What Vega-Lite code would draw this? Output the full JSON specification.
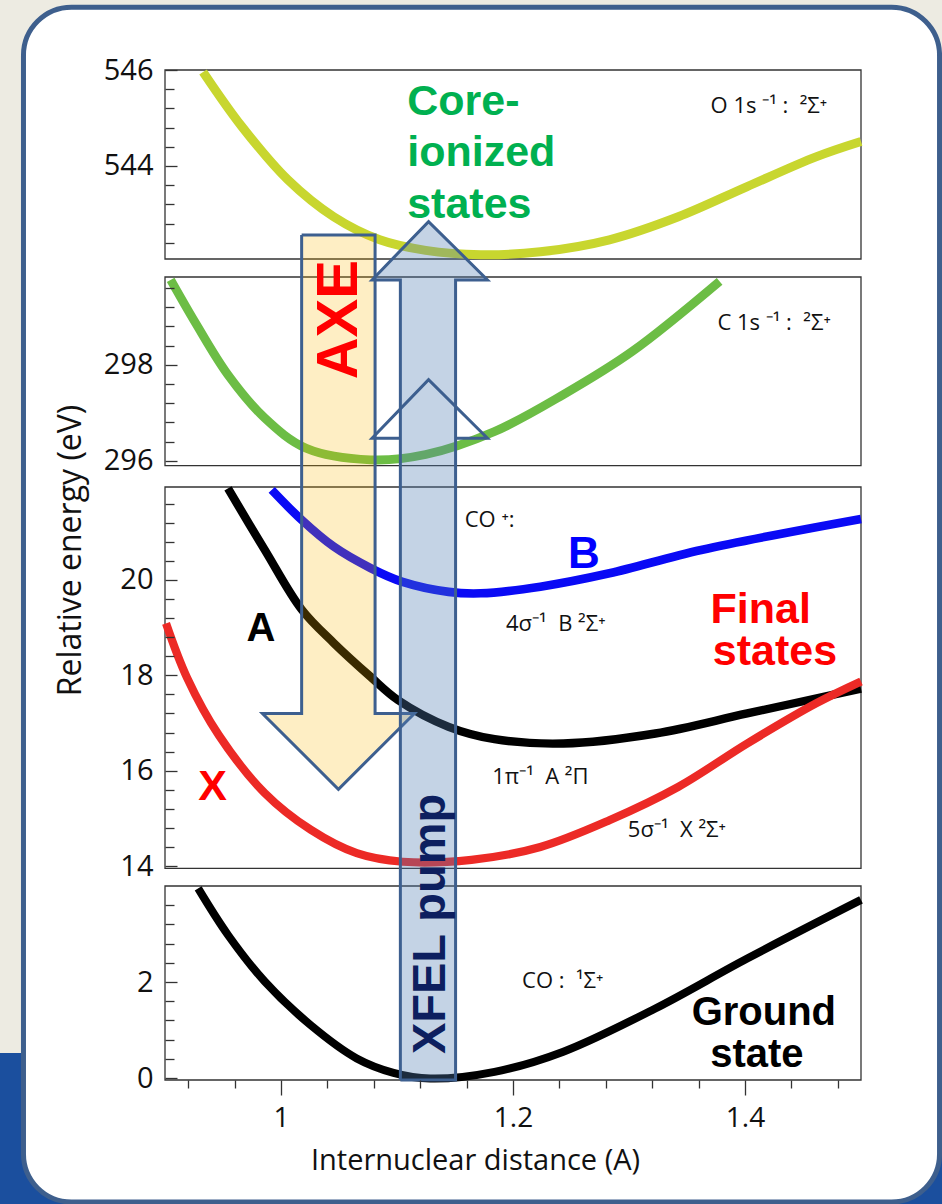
{
"$schema":"https://vega.github.io/schema/vega-lite/v6.json",
"width":696,"height":1010,
"autosize":{"type":"none"},
"padding":{"left":165,"top":70,"right":81,"bottom":124},
"background":"#edebe2",
"config":{"view":{"stroke":null}},
"datasets":{
"bg":[{"x1":0.74,"x2":1.59,"y1":-2.9,"y2":0.522}],
"panel":[{"x1":0.778,"x2":1.5677,"y1":-2.58,"y2":547.31}],
"frames":[{"x1":0.9,"x2":1.5,"y1":542.06,"y2":546},{"x1":0.9,"x2":1.5,"y1":295.9,"y2":299.83},{"x1":0.9,"x2":1.5,"y1":13.95,"y2":21.95},{"x1":0.9,"x2":1.5,"y1":-0.04,"y2":4.0}],
"curves":[
{"s":"O1s","x":0.9328,"y":545.96},{"s":"O1s","x":0.9663,"y":544.82},{"s":"O1s","x":1.0059,"y":543.71},{"s":"O1s","x":1.0454,"y":542.94},{"s":"O1s","x":1.0851,"y":542.46},{"s":"O1s","x":1.1247,"y":542.24},{"s":"O1s","x":1.1722,"y":542.15},{"s":"O1s","x":1.2236,"y":542.21},{"s":"O1s","x":1.2831,"y":542.46},{"s":"O1s","x":1.3425,"y":542.94},{"s":"O1s","x":1.4019,"y":543.57},{"s":"O1s","x":1.4612,"y":544.19},{"s":"O1s","x":1.5,"y":544.51},
{"s":"C1s","x":0.9049,"y":299.77},{"s":"C1s","x":0.9266,"y":298.86},{"s":"C1s","x":0.9543,"y":297.79},{"s":"C1s","x":0.986,"y":296.89},{"s":"C1s","x":1.0217,"y":296.26},{"s":"C1s","x":1.0772,"y":296.02},{"s":"C1s","x":1.1247,"y":296.13},{"s":"C1s","x":1.1841,"y":296.61},{"s":"C1s","x":1.2434,"y":297.38},{"s":"C1s","x":1.3028,"y":298.28},{"s":"C1s","x":1.3781,"y":299.74},
{"s":"B","x":0.992,"y":21.89},{"s":"B","x":1.0178,"y":21.26},{"s":"B","x":1.0454,"y":20.7},{"s":"B","x":1.0772,"y":20.25},{"s":"B","x":1.1048,"y":19.96},{"s":"B","x":1.1445,"y":19.75},{"s":"B","x":1.1722,"y":19.72},{"s":"B","x":1.2236,"y":19.86},{"s":"B","x":1.2831,"y":20.14},{"s":"B","x":1.3622,"y":20.63},{"s":"B","x":1.5,"y":21.28},
{"s":"A","x":0.9543,"y":21.92},{"s":"A","x":0.986,"y":20.63},{"s":"A","x":1.0178,"y":19.38},{"s":"A","x":1.0454,"y":18.68},{"s":"A","x":1.0772,"y":17.97},{"s":"A","x":1.1009,"y":17.48},{"s":"A","x":1.1445,"y":16.92},{"s":"A","x":1.1841,"y":16.66},{"s":"A","x":1.2434,"y":16.57},{"s":"A","x":1.3227,"y":16.78},{"s":"A","x":1.4019,"y":17.2},{"s":"A","x":1.5,"y":17.72},
{"s":"X","x":0.9009,"y":19.09},{"s":"X","x":0.919,"y":17.95},{"s":"X","x":0.9465,"y":16.74},{"s":"X","x":0.986,"y":15.53},{"s":"X","x":1.0257,"y":14.76},{"s":"X","x":1.0653,"y":14.27},{"s":"X","x":1.1048,"y":14.09},{"s":"X","x":1.1642,"y":14.13},{"s":"X","x":1.2236,"y":14.4},{"s":"X","x":1.2831,"y":14.96},{"s":"X","x":1.3425,"y":15.66},{"s":"X","x":1.4019,"y":16.57},{"s":"X","x":1.4612,"y":17.41},{"s":"X","x":1.5,"y":17.87},
{"s":"G","x":0.9286,"y":3.95},{"s":"G","x":0.9543,"y":2.98},{"s":"G","x":0.986,"y":2.01},{"s":"G","x":1.0257,"y":1.1},{"s":"G","x":1.0653,"y":0.41},{"s":"G","x":1.097,"y":0.11},{"s":"G","x":1.1286,"y":-0.01},{"s":"G","x":1.1841,"y":0.13},{"s":"G","x":1.2434,"y":0.55},{"s":"G","x":1.3227,"y":1.45},{"s":"G","x":1.4019,"y":2.49},{"s":"G","x":1.5,"y":3.71}
],
"axe":[{"i":0,"x":1.0178,"y":542.56},{"i":1,"x":1.0178,"y":17.2},{"i":2,"x":0.984,"y":17.2},{"i":3,"x":1.0495,"y":15.61},{"i":4,"x":1.115,"y":17.2},{"i":5,"x":1.0811,"y":17.2},{"i":6,"x":1.0811,"y":542.56},{"i":7,"x":1.0178,"y":542.56}],
"xfel":[{"i":0,"x":1.1029,"y":-0.04},{"i":1,"x":1.1029,"y":299.77},{"i":2,"x":1.0785,"y":299.77},{"i":3,"x":1.1272,"y":542.84},{"i":4,"x":1.178,"y":299.77},{"i":5,"x":1.1505,"y":299.77},{"i":6,"x":1.1505,"y":-0.04},{"i":7,"x":1.1029,"y":-0.04}],
"xfel2":[{"i":0,"x":1.1029,"y":296.47},{"i":1,"x":1.0785,"y":296.47},{"i":2,"x":1.1272,"y":297.69},{"i":3,"x":1.178,"y":296.47},{"i":4,"x":1.1505,"y":296.47}],
"labels":[
{"k":"green","t":"Core-","x":1.1088,"y":545.06},{"k":"green","t":"ionized","x":1.1088,"y":543.99},{"k":"green","t":"states","x":1.1088,"y":542.91},
{"k":"blue","t":"B","x":1.2475,"y":20.25},
{"k":"black","t":"A","x":0.9702,"y":18.71},{"k":"black","t":"Ground","x":1.354,"y":1.104},{"k":"black","t":"state","x":1.37,"y":0.235},
{"k":"red","t":"X","x":0.9286,"y":15.38},{"k":"red","t":"Final","x":1.3703,"y":19.09},{"k":"red","t":"states","x":1.3723,"y":18.22}
],
"axetext":[{"t":"AXE","x":1.0505,"y":298.94}],
"xfeltext":[{"t":"XFEL pump","x":1.129,"y":3.21}],
"notes":[
{"t":"O 1s\u00a0⁻¹\u00a0:\u00a0\u00a0²Σ⁺","x":1.3703,"y":545.1},
{"t":"C 1s\u00a0⁻¹\u00a0:\u00a0\u00a0²Σ⁺","x":1.3762,"y":298.73},
{"t":"CO\u00a0⁺:","x":1.1584,"y":21.12},
{"t":"4σ⁻¹\u00a0\u00a0B\u00a0²Σ⁺","x":1.194,"y":18.92},
{"t":"1π⁻¹\u00a0\u00a0A\u00a0²Π","x":1.1821,"y":15.73},
{"t":"5σ⁻¹\u00a0\u00a0X\u00a0²Σ⁺","x":1.299,"y":14.61},
{"t":"CO\u00a0:\u00a0\u00a0¹Σ⁺","x":1.2078,"y":1.87}
]
},
"layer":[
{"data":{"name":"bg"},"mark":{"type":"rect","color":"#1b4f9e"},
 "encoding":{"x":{"field":"x1","type":"quantitative","scale":{"domain":[0.9,1.5],"nice":false,"zero":false},"axis":null},"x2":{"field":"x2"},
 "y":{"field":"y1","type":"quantitative","scale":{"domain":[-0.04,4.0,13.95,21.95,295.9,299.83,542.06,546],"range":[1010,816,798.4,417,395.6,207,189,0],"nice":false,"zero":false},"axis":null},"y2":{"field":"y2"}}},
{"data":{"name":"panel"},"mark":{"type":"rect","fill":"#ffffff","stroke":"#3e5f8d","strokeWidth":5,"cornerRadius":48},
 "encoding":{"x":{"field":"x1","type":"quantitative","scale":{"domain":[0.9,1.5],"nice":false,"zero":false},"axis":null},"x2":{"field":"x2"},
 "y":{"field":"y1","type":"quantitative","scale":{"domain":[-0.04,4.0,13.95,21.95,295.9,299.83,542.06,546],"range":[1010,816,798.4,417,395.6,207,189,0],"nice":false,"zero":false},"axis":null},"y2":{"field":"y2"}}},
{"data":{"name":"frames"},"mark":{"type":"rect","fill":null,"filled":false,"stroke":"#333333","strokeWidth":1.3},
 "encoding":{"x":{"field":"x1","type":"quantitative","scale":{"domain":[0.9,1.5],"nice":false,"zero":false},
   "axis":{"orient":"bottom","values":[1,1.2,1.4],"format":"~g","tickSize":15,"tickColor":"#333333","tickWidth":1.3,"domain":false,"grid":false,"labelFont":"Open Sans","labelFontSize":28,"labelColor":"#111111","labelPadding":9,"labelFlush":false,"labelOverlap":false,"title":"Internuclear distance (A)","titleFont":"Open Sans","titleFontSize":29,"titleFontWeight":"normal","titleColor":"#111111","titleBaseline":"alphabetic","titleX":310,"titleY":89,"zindex":2}},
  "x2":{"field":"x2"},
  "y":{"field":"y1","type":"quantitative","scale":{"domain":[-0.04,4.0,13.95,21.95,295.9,299.83,542.06,546],"range":[1010,816,798.4,417,395.6,207,189,0],"nice":false,"zero":false},
   "axis":{"orient":"left","values":[0,2,14,16,18,20,296,298,544,546],"offset":-12,"tickSize":12,"tickColor":"#333333","tickWidth":1.3,"domain":false,"grid":false,"labelFont":"Open Sans","labelFontSize":29,"labelColor":"#111111","labelPadding":12,"labelFlush":false,"labelOverlap":false,"title":"Relative energy (eV)","titleFont":"Open Sans","titleFontSize":32,"titleFontWeight":"normal","titleColor":"#111111","titleX":-107,"titleY":480,"titleBaseline":"middle","titleAngle":270,"zindex":2}},
  "y2":{"field":"y2"}}},
{"data":{"name":"frames"},"mark":{"type":"rect","opacity":0},
 "encoding":{"x":{"field":"x1","type":"quantitative","scale":{"domain":[0.9,1.5],"nice":false,"zero":false},
   "axis":{"orient":"bottom","values":[0.92,0.96,1.04,1.08,1.12,1.16,1.24,1.28,1.32,1.36,1.44,1.48],"tickSize":8,"tickColor":"#333333","tickWidth":1.3,"domain":false,"grid":false,"labels":false,"title":null,"zindex":2}},
  "x2":{"field":"x2"},
  "y":{"field":"y1","type":"quantitative","scale":{"domain":[-0.04,4.0,13.95,21.95,295.9,299.83,542.06,546],"range":[1010,816,798.4,417,395.6,207,189,0],"nice":false,"zero":false},
   "axis":{"orient":"left","values":[0.4,0.8,1.2,1.6,2.4,2.8,3.2,3.6,14.4,14.8,15.2,15.6,16.4,16.8,17.2,17.6,18.4,18.8,19.2,19.6,20.4,20.8,21.2,21.6,296.4,296.8,297.2,297.6,298.4,298.8,299.2,299.6,542.4,542.8,543.2,543.6,544.4,544.8,545.2,545.6],"offset":-9,"tickSize":9,"tickColor":"#333333","tickWidth":1.3,"domain":false,"grid":false,"labels":false,"title":null,"zindex":2}},
  "y2":{"field":"y2"}}},
{"data":{"name":"curves"},"mark":{"type":"line","interpolate":"catmull-rom","strokeCap":"butt"},
 "encoding":{"x":{"field":"x","type":"quantitative","scale":{"domain":[0.9,1.5],"nice":false,"zero":false},"axis":null},
  "y":{"field":"y","type":"quantitative","scale":{"domain":[-0.04,4.0,13.95,21.95,295.9,299.83,542.06,546],"range":[1010,816,798.4,417,395.6,207,189,0],"nice":false,"zero":false},"axis":null},
  "color":{"field":"s","type":"nominal","scale":{"domain":["O1s","C1s","B","A","X","G"],"range":["#c8d62f","#6cbd45","#0a0af5","#000000","#ec2a26","#000000"]},"legend":null},
  "strokeWidth":{"field":"s","type":"nominal","scale":{"domain":["O1s","C1s","B","A","X","G"],"range":[9,8,9,8,8,10]},"legend":null}}},
{"data":{"name":"axe"},"mark":{"type":"line","fill":"#fcb700","fillOpacity":0.23,"stroke":"#3d5f8f","strokeWidth":3,"strokeJoin":"miter"},
 "encoding":{"x":{"field":"x","type":"quantitative","scale":{"domain":[0.9,1.5],"nice":false,"zero":false},"axis":null},
  "y":{"field":"y","type":"quantitative","scale":{"domain":[-0.04,4.0,13.95,21.95,295.9,299.83,542.06,546],"range":[1010,816,798.4,417,395.6,207,189,0],"nice":false,"zero":false},"axis":null},
  "order":{"field":"i","type":"quantitative"}}},
{"data":{"name":"xfel"},"mark":{"type":"line","fill":"#537db2","fillOpacity":0.34,"stroke":"#3d5f8f","strokeWidth":3,"strokeJoin":"miter"},
 "encoding":{"x":{"field":"x","type":"quantitative","scale":{"domain":[0.9,1.5],"nice":false,"zero":false},"axis":null},
  "y":{"field":"y","type":"quantitative","scale":{"domain":[-0.04,4.0,13.95,21.95,295.9,299.83,542.06,546],"range":[1010,816,798.4,417,395.6,207,189,0],"nice":false,"zero":false},"axis":null},
  "order":{"field":"i","type":"quantitative"}}},
{"data":{"name":"xfel2"},"mark":{"type":"line","stroke":"#3d5f8f","strokeWidth":3,"strokeJoin":"miter"},
 "encoding":{"x":{"field":"x","type":"quantitative","scale":{"domain":[0.9,1.5],"nice":false,"zero":false},"axis":null},
  "y":{"field":"y","type":"quantitative","scale":{"domain":[-0.04,4.0,13.95,21.95,295.9,299.83,542.06,546],"range":[1010,816,798.4,417,395.6,207,189,0],"nice":false,"zero":false},"axis":null},
  "order":{"field":"i","type":"quantitative"}}},
{"data":{"name":"labels"},"transform":[{"filter":"datum.k === 'green'"}],"mark":{"type":"text","font":"Liberation Sans","fontWeight":"bold","fontSize":43,"color":"#00b050","align":"left","baseline":"alphabetic"},
 "encoding":{"x":{"field":"x","type":"quantitative","scale":{"domain":[0.9,1.5],"nice":false,"zero":false},"axis":null},
  "y":{"field":"y","type":"quantitative","scale":{"domain":[-0.04,4.0,13.95,21.95,295.9,299.83,542.06,546],"range":[1010,816,798.4,417,395.6,207,189,0],"nice":false,"zero":false},"axis":null},
  "text":{"field":"t"}}},
{"data":{"name":"labels"},"transform":[{"filter":"datum.k === 'blue'"}],"mark":{"type":"text","font":"Liberation Sans","fontWeight":"bold","fontSize":44,"color":"#0000ff","align":"left","baseline":"alphabetic"},
 "encoding":{"x":{"field":"x","type":"quantitative","scale":{"domain":[0.9,1.5],"nice":false,"zero":false},"axis":null},
  "y":{"field":"y","type":"quantitative","scale":{"domain":[-0.04,4.0,13.95,21.95,295.9,299.83,542.06,546],"range":[1010,816,798.4,417,395.6,207,189,0],"nice":false,"zero":false},"axis":null},
  "text":{"field":"t"}}},
{"data":{"name":"labels"},"transform":[{"filter":"datum.k === 'black'"}],"mark":{"type":"text","font":"Liberation Sans","fontWeight":"bold","fontSize":40,"color":"#000000","align":"left","baseline":"alphabetic"},
 "encoding":{"x":{"field":"x","type":"quantitative","scale":{"domain":[0.9,1.5],"nice":false,"zero":false},"axis":null},
  "y":{"field":"y","type":"quantitative","scale":{"domain":[-0.04,4.0,13.95,21.95,295.9,299.83,542.06,546],"range":[1010,816,798.4,417,395.6,207,189,0],"nice":false,"zero":false},"axis":null},
  "text":{"field":"t"}}},
{"data":{"name":"labels"},"transform":[{"filter":"datum.k === 'red'"}],"mark":{"type":"text","font":"Liberation Sans","fontWeight":"bold","fontSize":43,"color":"#ff0000","align":"left","baseline":"alphabetic"},
 "encoding":{"x":{"field":"x","type":"quantitative","scale":{"domain":[0.9,1.5],"nice":false,"zero":false},"axis":null},
  "y":{"field":"y","type":"quantitative","scale":{"domain":[-0.04,4.0,13.95,21.95,295.9,299.83,542.06,546],"range":[1010,816,798.4,417,395.6,207,189,0],"nice":false,"zero":false},"axis":null},
  "text":{"field":"t"}}},
{"data":{"name":"axetext"},"mark":{"type":"text","font":"Liberation Sans","fontWeight":"bold","fontSize":58,"color":"#ff0000","align":"center","baseline":"middle","angle":270},
 "encoding":{"x":{"field":"x","type":"quantitative","scale":{"domain":[0.9,1.5],"nice":false,"zero":false},"axis":null},
  "y":{"field":"y","type":"quantitative","scale":{"domain":[-0.04,4.0,13.95,21.95,295.9,299.83,542.06,546],"range":[1010,816,798.4,417,395.6,207,189,0],"nice":false,"zero":false},"axis":null},
  "text":{"field":"t"}}},
{"data":{"name":"xfeltext"},"mark":{"type":"text","font":"Liberation Sans","fontWeight":"bold","fontSize":47,"color":"#0d1f5f","align":"center","baseline":"middle","angle":270},
 "encoding":{"x":{"field":"x","type":"quantitative","scale":{"domain":[0.9,1.5],"nice":false,"zero":false},"axis":null},
  "y":{"field":"y","type":"quantitative","scale":{"domain":[-0.04,4.0,13.95,21.95,295.9,299.83,542.06,546],"range":[1010,816,798.4,417,395.6,207,189,0],"nice":false,"zero":false},"axis":null},
  "text":{"field":"t"}}},
{"data":{"name":"notes"},"mark":{"type":"text","font":"Open Sans","fontSize":22,"color":"#111111","align":"left","baseline":"alphabetic"},
 "encoding":{"x":{"field":"x","type":"quantitative","scale":{"domain":[0.9,1.5],"nice":false,"zero":false},"axis":null},
  "y":{"field":"y","type":"quantitative","scale":{"domain":[-0.04,4.0,13.95,21.95,295.9,299.83,542.06,546],"range":[1010,816,798.4,417,395.6,207,189,0],"nice":false,"zero":false},"axis":null},
  "text":{"field":"t"}}}
],
"resolve":{"axis":{"x":"independent","y":"independent"}}
}
